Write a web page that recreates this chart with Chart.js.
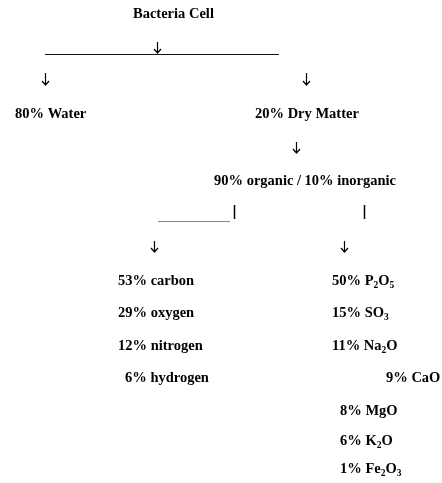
<!DOCTYPE html>
<html><head><meta charset="utf-8">
<script src="https://cdn.jsdelivr.net/npm/chart.js@4"></script>
<style>html,body{margin:0;padding:0;background:#fff}#wrap{width:442px;height:483px}</style>
</head><body><div id="wrap"><canvas id="c" width="442" height="483"></canvas></div>
<script>
// ---- data ----
const rootLabel = 'Bacteria Cell';
const cellParts = ['Water', 'Dry Matter'];
const cellShares = [80, 20];
const dryParts = ['organic', 'inorganic'];
const dryShares = [90, 10];
const organicElements = ['carbon', 'oxygen', 'nitrogen', 'hydrogen'];
const organicShares = [53, 29, 12, 6];
const inorganicOxides = ['P2O5', 'SO3', 'Na2O', 'CaO', 'MgO', 'K2O', 'Fe2O3'];
const inorganicShares = [50, 15, 11, 9, 8, 6, 1];

// ---- layout (diagram units = pixels of the 442x483 page) ----
const rootPos = {x: 133, y: 18};
const cellPos = [{x: 15, y: 118}, {x: 255, y: 118}];
const dryPos = {x: 214, y: 185};
const organicPos = [{x: 118, y: 285}, {x: 118, y: 317}, {x: 118, y: 350}, {x: 125, y: 382}];
const inorganicPos = [{x: 332, y: 285}, {x: 332, y: 317}, {x: 332, y: 350}, {x: 386, y: 382},
                      {x: 340, y: 415}, {x: 340, y: 445}, {x: 340, y: 473}];
const arrows = [{x: 157.5, y0: 42, y1: 53}, {x: 45.5, y0: 73, y1: 85}, {x: 306.5, y0: 73, y1: 85},
                {x: 296.5, y0: 142, y1: 153}, {x: 154.5, y0: 241, y1: 252}, {x: 344.5, y0: 241, y1: 252}];
const bars = [{x: 234.5, y0: 205, y1: 219}, {x: 364.5, y0: 205, y1: 219}];
const rules = [
  {pts: [{x: 45, y: 54.5}, {x: 279, y: 54.5}], color: '#111'},
  {pts: [{x: 158, y: 221.5}, {x: 230, y: 221.5}], color: '#888'}
];

const FONT = 'bold 14.5px "Liberation Serif", "Times New Roman", serif';
const SUBFONT = 'bold 9.5px "Liberation Serif", "Times New Roman", serif';

// text items
const texts = [];
texts.push({t: rootLabel, p: rootPos});
cellParts.forEach((n, i) => texts.push({t: cellShares[i] + '% ' + n, p: cellPos[i]}));
texts.push({t: dryShares[0] + '% ' + dryParts[0] + ' / ' + dryShares[1] + '% ' + dryParts[1], p: dryPos});
organicElements.forEach((n, i) => texts.push({t: organicShares[i] + '% ' + n, p: organicPos[i]}));
inorganicOxides.forEach((n, i) => texts.push({t: inorganicShares[i] + '% ' + n, p: inorganicPos[i], chem: true}));

const diagramPlugin = {
  id: 'diagram',
  afterDraw(chart) {
    const ctx = chart.ctx, xs = chart.scales.x, ys = chart.scales.y;
    ctx.save();
    ctx.fillStyle = '#000';
    ctx.textBaseline = 'alphabetic';
    ctx.textAlign = 'left';
    texts.forEach(it => {
      let x = xs.getPixelForValue(it.p.x), y = ys.getPixelForValue(it.p.y);
      if (!it.chem) { ctx.font = FONT; ctx.fillText(it.t, x, y); return; }
      const sp = it.t.indexOf(' ');
      const head = it.t.slice(0, sp + 1), formula = it.t.slice(sp + 1);
      ctx.font = FONT; ctx.fillText(head, x, y); x += ctx.measureText(head).width;
      for (const ch of formula) {
        if (/[0-9]/.test(ch)) {
          ctx.font = SUBFONT; ctx.fillText(ch, x, y + 2.5); x += ctx.measureText(ch).width;
        } else {
          ctx.font = FONT; ctx.fillText(ch, x, y); x += ctx.measureText(ch).width;
        }
      }
    });
    // arrows
    ctx.strokeStyle = '#000'; ctx.lineWidth = 1.2;
    arrows.forEach(a => {
      const x = xs.getPixelForValue(a.x), y0 = ys.getPixelForValue(a.y0), y1 = ys.getPixelForValue(a.y1);
      ctx.beginPath(); ctx.moveTo(x, y0); ctx.lineTo(x, y1);
      ctx.moveTo(x - 3.5, y1 - 4); ctx.lineTo(x, y1); ctx.lineTo(x + 3.5, y1 - 4);
      ctx.stroke();
    });
    ctx.lineWidth = 1.5;
    bars.forEach(b => {
      const x = xs.getPixelForValue(b.x);
      ctx.beginPath(); ctx.moveTo(x, ys.getPixelForValue(b.y0)); ctx.lineTo(x, ys.getPixelForValue(b.y1)); ctx.stroke();
    });
    ctx.restore();
  }
};

new Chart(document.getElementById('c'), {
  type: 'scatter',
  data: {
    datasets: rules.map(r => ({data: r.pts, showLine: true, borderColor: r.color, borderWidth: 1,
      pointRadius: 0, pointHoverRadius: 0, fill: false}))
  },
  options: {
    responsive: false, animation: false,
    layout: {padding: 0},
    plugins: {legend: {display: false}, tooltip: {enabled: false}},
    scales: {
      x: {type: 'linear', min: 0, max: 442, display: false},
      y: {type: 'linear', min: 0, max: 483, reverse: true, display: false}
    }
  },
  plugins: [diagramPlugin]
});
</script>
</body></html>
